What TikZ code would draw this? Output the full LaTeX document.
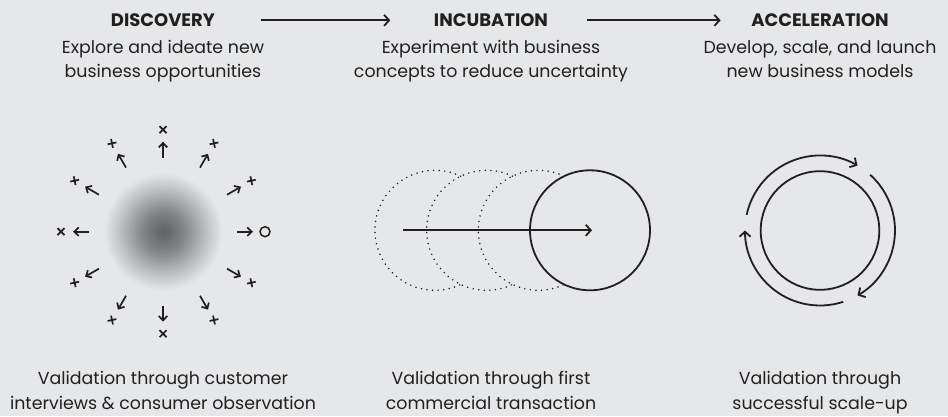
\documentclass[tikz,border=0pt]{standalone}
\usepackage{fontspec}
\setmainfont{Poppins}
\usetikzlibrary{arrows.meta,calc}

\definecolor{bggray}{HTML}{E6E7E8}
\definecolor{ink}{HTML}{231F20}
\definecolor{blob}{HTML}{5F6063}

\pgfdeclareradialshading{halo}{\pgfpoint{0bp}{0bp}}{%
    color(0bp)=(blob); color(9bp)=(blob!72!bggray); color(18bp)=(blob!30!bggray); color(25bp)=(bggray); color(50bp)=(bggray)}

\tikzset{
    flow/.style={ink, line width=1.8pt, -{Straight Barb[length=5pt,width=11pt]}},
    ray/.style={ink, line width=1.7pt, -{Straight Barb[length=4.5pt,width=8.5pt]}},
    sym/.style={ink, line width=1.7pt},
    dots/.style={ink, line width=1.7pt, dash pattern=on 0pt off 5.6pt, line cap=round},
    title/.style={font=\bfseries\fontsize{18}{20}\selectfont, text=ink, anchor=base, inner sep=0pt},
    desc/.style={font=\fontsize{17.4}{24.4}\selectfont, text=ink, align=center, anchor=base, inner sep=0pt},
}

\begin{document}
\begin{tikzpicture}[x=1pt, y=1pt]
    \fill[bggray] (0,0) rectangle (948,416);
    \useasboundingbox (0,0) rectangle (948,416);

    % Headings
    \node[title] (disc) at (163,389.3) {DISCOVERY};
    \node[title] (incu) at (491,389.3) {INCUBATION};
    \node[title] (accel) at (820,389.3) {ACCELERATION};
    % (base of a two-line node = its last line)
    \node[desc] (disc-txt) at (163,338) {Explore and ideate new\\business opportunities};
    \node[desc] (incu-txt) at (491,338) {Experiment with business\\concepts to reduce uncertainty};
    \node[desc] (accel-txt) at (820,338) {Develop, scale, and launch\\new business models};

    \draw[flow] ([xshift=45.5pt]disc.east) -- ([xshift=-43.5pt]incu.west);
    \draw[flow] ([xshift=38.5pt]incu.east) -- ([xshift=-30.5pt]accel.west);

    % Discovery (left)
    \begin{scope}[shift={(163,184.3)}]
        \shade[shading=halo] (0,0) circle (59);
        \foreach \a in {0,30,...,330}
            \draw[ray] (\a:74) -- (\a:90);
        % what lies at the end of each ray
        \draw[ink, line width=1.5pt] (0:102) circle (5);
        \foreach \a in {90,180,270}
            \draw[sym, shift={(\a:102)}] (-3.5,-3.5) -- (3.5,3.5) (-3.5,3.5) -- (3.5,-3.5);
        \foreach \a in {30,60,120,150,210,240,300,330}
            \draw[sym, shift={(\a:102)}, rotate=12] (-4.5,0) -- (4.5,0) (0,-4.5) -- (0,4.5);
    \end{scope}

    % Incubation (middle)
    \begin{scope}[shift={(590,185.7)}]
        \foreach \i in {1,2,3}
            \draw[dots] ({-51.7*\i},0) ++(64.5:60) arc[start angle=64.5, end angle=295.5, radius=60];
        \node[circle, draw=ink, line width=1.8pt, minimum size=120pt, inner sep=0pt] (deal) at (0,0) {};
        \coordinate (deal-from) at (-187,0);
        \draw[flow] (deal-from) -- ([xshift=2pt]deal.center);
    \end{scope}

    % Acceleration (right)
    \begin{scope}[shift={(820,185.5)}]
        \node[circle, draw=ink, line width=1.8pt, minimum size=118.6pt, inner sep=0pt] (core) at (0,0) {};
        \foreach \a in {168,48,-72}
            \draw[flow] (\a:75) arc[start angle=\a, end angle=\a-108, radius=75];
    \end{scope}

    % Validation
    \node[desc] (disc-val) at (163,7) {Validation through customer\\interviews \& consumer observation};
    \node[desc] (incu-val) at (491,7) {Validation through first\\commercial transaction};
    \node[desc] (accel-val) at (820,7) {Validation through\\successful scale-up};
\end{tikzpicture}
\end{document}
